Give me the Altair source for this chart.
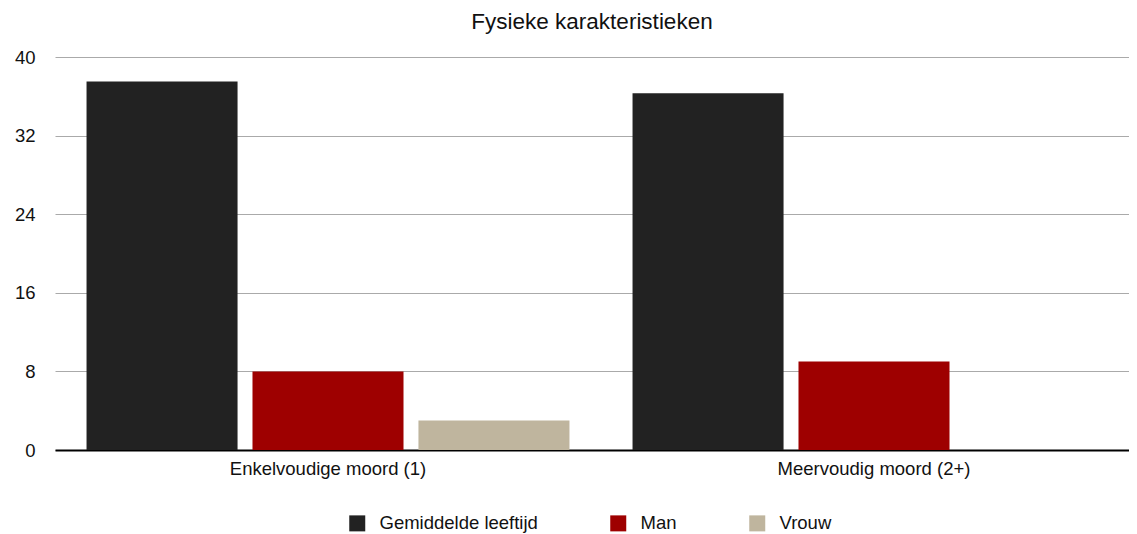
import altair as alt
import pandas as pd

categories = ["Enkelvoudige moord (1)", "Meervoudig moord (2+)"]
series = ["Gemiddelde leeftijd", "Man", "Vrouw"]
gemiddelde_leeftijd = [37.5, 36.3]
man = [8.0, 9.0]
vrouw = [3.0, 0.0]
colors = ["#222222", "#9e0000", "#bfb59e"]
y_ticks = [0, 8, 16, 24, 32, 40]

rows = []
for i, c in enumerate(categories):
    for s, vals in zip(series, [gemiddelde_leeftijd, man, vrouw]):
        rows.append({"categorie": c, "reeks": s, "waarde": vals[i]})
df = pd.DataFrame(rows)

FONT = "Liberation Sans"
FS = 18.5

chart = alt.Chart(df, title=alt.Title(
    "Fysieke karakteristieken", font=FONT, fontSize=22.5, fontWeight="normal",
    color="#111111", anchor="middle", offset=15,
)).mark_bar().encode(
    x=alt.X("categorie:N", sort=categories, title=None,
            scale=alt.Scale(range=[0, 1092], paddingInner=0, paddingOuter=0),
            axis=alt.Axis(labelAngle=0, labelFont=FONT, labelFontSize=FS,
                          labelColor="#111111", ticks=False, domain=True,
                          domainColor="#000000", domainWidth=2, labelPadding=9,
                          labelLimit=500)),
    xOffset=alt.XOffset("reeks:N", sort=series,
                        scale=alt.Scale(paddingInner=0.09, paddingOuter=0.19)),
    y=alt.Y("waarde:Q", title=None,
            scale=alt.Scale(domain=[0, 40], nice=False),
            axis=alt.Axis(values=y_ticks, labelFont=FONT, labelFontSize=FS,
                          labelColor="#111111", ticks=False, domain=False,
                          gridColor="#aaaaaa", gridWidth=1, labelPadding=20)),
    color=alt.Color("reeks:N", sort=series,
                    scale=alt.Scale(domain=series, range=colors),
                    legend=alt.Legend(title=None, orient="none", direction="horizontal",
                                      legendX=293, legendY=457,
                                      symbolType="square", symbolSize=256,
                                      symbolStrokeWidth=0, symbolOpacity=1,
                                      labelFont=FONT, labelFontSize=FS,
                                      labelColor="#111111", labelOffset=13,
                                      labelLimit=400, columnPadding=71)),
).properties(
    width=1074, height=393,
    padding={"left": 47, "top": 49, "right": 0, "bottom": 84},
    autosize=alt.AutoSizeParams(type="none"),
).configure_view(stroke=None)

chart.save("out.html", embed_options={"renderer": "svg", "actions": False})
